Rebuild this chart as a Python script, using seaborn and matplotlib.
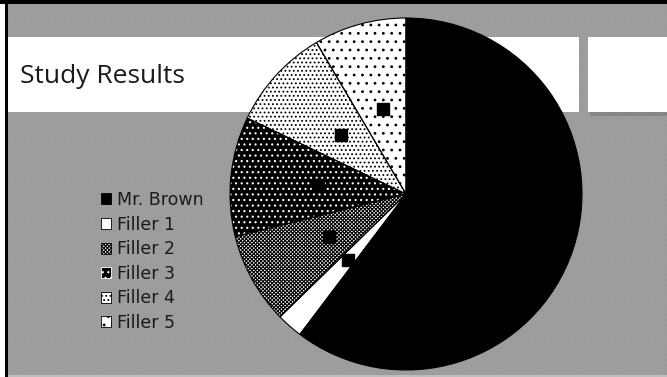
import numpy as np
import matplotlib.pyplot as plt
import matplotlib.patches as mpatches
import seaborn as sns

# slices of the pie (percent)
labels = ['Mr. Brown', 'Filler 1', 'Filler 2', 'Filler 3', 'Filler 4', 'Filler 5']
shares = [60.3, 2.4, 8.4, 11.0, 9.4, 8.5]
fills = ['black', 'white', 'white', 'black', 'white', 'white']
hatches = ['', '', 'xxxxxxxxx', '...', '....', '..']
dotcolors = ['black', 'black', 'black', 'white', 'black', 'black']

sns.set_style('white')
plt.rcParams['font.family'] = ['DejaVu Sans']
plt.rcParams['hatch.linewidth'] = 0.8

W, H = 667, 377
fig = plt.figure(figsize=(W / 100, H / 100), dpi=100)
fig.patch.set_facecolor('white')


def box(x0, y0, x1, y1, **kw):
    # rectangle in pixel coords, y measured from the top
    r = mpatches.Rectangle((x0 / W, 1 - y1 / H), (x1 - x0) / W, (y1 - y0) / H,
                           transform=fig.transFigure, **kw)
    fig.add_artist(r)
    return r


# slide background
box(7, 3, 667, 375, fc='#969696', lw=0, zorder=-6)
box(7, 3, 667, 375, fill=False, hatch='xxxxxxxxxx', ec='#9f9f9f', lw=0, zorder=-5)
box(7, 375, 667, 377, fc='#bdbdbd', lw=0, zorder=-5)
box(5, 0, 7.5, 377, fc='black', lw=0, zorder=-4)
box(0, 0.5, 667, 3.5, fc='black', lw=0, zorder=-4)

# title bands
box(590, 112, 667, 116, fc='#7a7a7a', lw=0, alpha=0.6, zorder=-3)
box(7.5, 37, 579, 112, fc='white', lw=0, zorder=-2)
box(588, 37, 667, 112, fc='white', lw=0, zorder=-2)
fig.text(20 / W, 1 - 83 / H, 'Study Results', fontsize=19, family='Open Sans',
         va='baseline', ha='left', color='#1a1a1a', zorder=3)

# pie
cx, cy, R = 406, 194, 176
side = 2.2 * R
ax = fig.add_axes([(cx - side / 2) / W, (H - cy - side / 2) / H, side / W, side / H])
wedges, _ = ax.pie(shares, startangle=90, counterclock=False, colors=fills,
                   wedgeprops=dict(linewidth=0))
for w, h, c in zip(wedges, hatches, dotcolors):
    if h:
        w.set_hatch(h)
        w.set_edgecolor(c)
        if hasattr(w, 'set_hatchcolor'):
            w.set_hatchcolor(c)
ax.pie(shares, startangle=90, counterclock=False,
       wedgeprops=dict(fill=False, edgecolor='black', linewidth=0.8))

# small black label boxes at the middle of each slice
for w in wedges:
    th = np.deg2rad((w.theta1 + w.theta2) / 2)
    ax.scatter(0.5 * np.cos(th), 0.5 * np.sin(th), marker='s', s=70,
               color='black', zorder=5)

ax.set_xlim(-1.1, 1.1)
ax.set_ylim(-1.1, 1.1)
ax.set_aspect('equal')
ax.axis('off')
ax.patch.set_visible(False)

# legend
handles = []
for f, h, c in zip(fills, hatches, dotcolors):
    p = mpatches.Patch(facecolor=f, edgecolor=c if h else 'black', hatch=h, lw=0.6)
    handles.append(p)
leg = fig.legend(handles, labels, loc='upper left',
                 bbox_to_anchor=(101 / W, 1 - 191 / H), frameon=False, fontsize=12.5,
                 handlelength=0.6, handleheight=0.6, handletextpad=0.3,
                 labelspacing=0.38, borderpad=0, borderaxespad=0)
for t in leg.get_texts():
    t.set_color('#1a1a1a')

fig.savefig('out.png', dpi=100, facecolor=fig.get_facecolor())
